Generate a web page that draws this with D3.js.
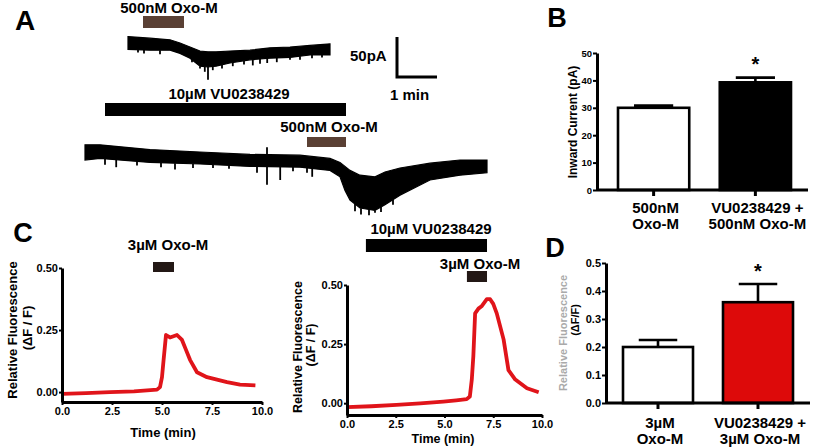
<!doctype html>
<html lang="en">
<head>
<meta charset="UTF-8">
<title>VU0238429 potentiates Oxo-M responses</title>
<style>
  body { margin: 0; background: #fff; }
  svg text { font-family: "Liberation Sans", Arial, sans-serif; font-weight: bold; }
</style>
<script src="https://cdn.jsdelivr.net/npm/d3@7/dist/d3.min.js"></script>
</head>
<body>
<svg width="820" height="448"></svg>
<script>
// ---- A: whole-cell current traces (time in min, current in pA, envelope of the noisy trace)
const traceTime1 = [0, 0.55, 1.05, 1.3, 1.55, 1.8, 2.0, 2.2, 2.55, 3.05, 3.55, 4.05, 4.55, 5.05]
const traceTop1 = [8, 6, 4, 0, -5, -10, -11, -11, -10, -9, -6, -5, -3, -1]
const traceBot1 = [-8, -9, -9, -13, -19, -29, -30, -29, -25, -21, -19, -18, -15, -15]
const spikes1 = [[0.25, -12], [0.4, -13], [0.8, -14], [1.6, -24], [1.8, -32], [1.92, -36], [2.0, -46], [2.12, -34], [2.35, -32], [2.62, -29], [2.9, -27], [3.12, -28], [3.3, -26], [3.48, -25], [3.72, -24], [4.05, -21], [4.3, -21], [4.6, -19], [4.85, -18]]

const traceTime2 = [0, 0.375, 1.625, 2.875, 4.125, 5.375, 6.125, 6.375, 6.5, 6.625, 6.875, 7.25, 7.5, 7.875, 8.625, 9.375, 10.05]
const traceTop2 = [9, 9, 3, 0, -3, -4, -8, -13, -18, -23, -29, -31, -25, -20, -14, -10, -10]
const traceBot2 = [-10, -8, -13, -15, -18, -19, -23, -31, -48, -60, -70, -73, -66, -54, -35, -29, -26]
const spikes2 = [[0.5, -16], [0.78, -19], [1.3, -17], [1.9, -19], [2.25, -22], [2.7, -20], [3.2, -20], [3.6, -21], [4.3, -26], [4.55, -41], [4.55, 6], [4.88, -35], [5.2, -24], [5.55, -26], [5.68, -31], [6.75, -74], [6.9, -78], [7.1, -79], [7.25, -76], [7.4, -75], [7.7, -66]]

const oxoA1 = [0.375, 1.4]      // drug on trace 1 (min)
const vuA2 = [0.5, 6.525]       // drugs on trace 2 (min)
const oxoA2 = [5.55, 6.525]

// ---- B: inward current bars
const catB = [["500nM", "Oxo-M"], ["VU0238429 +", "500nM Oxo-M"]]
const valB = [30, 39.3]
const errB = [0.8, 1.7]
const ticksB = [0, 10, 20, 30, 40, 50]

// ---- C: calcium fluorescence traces (time in min, dF/F)
const fTime1 = [0, 1.2, 2.4, 3.6, 4.75, 4.9, 5.0, 5.08, 5.2, 5.4, 5.75, 6.0, 6.2, 6.4, 6.75, 7.25, 7.75, 8.25, 8.9, 9.67]
const fVal1 = [-0.007, -0.004, 0, 0.003, 0.01, 0.02, 0.06, 0.13, 0.23, 0.22, 0.23, 0.21, 0.17, 0.13, 0.08, 0.06, 0.05, 0.04, 0.03, 0.027]
const fTime2 = [0, 1.25, 2.54, 3.75, 4.94, 5.6, 6.14, 6.3, 6.4, 6.48, 6.57, 6.74, 6.9, 7.17, 7.34, 7.5, 7.68, 8.03, 8.28, 8.63, 9.23, 9.83]
const fVal2 = [-0.017, -0.013, -0.007, -0.001, 0.007, 0.012, 0.017, 0.028, 0.1, 0.2, 0.38, 0.40, 0.41, 0.44, 0.44, 0.42, 0.38, 0.27, 0.14, 0.1, 0.063, 0.046]
const oxoC1 = [4.55, 5.6]
const vuC2 = [0.97, 7.18]
const oxoC2 = [6.15, 7.18]
const timeTicks = [0, 2.5, 5, 7.5, 10]
const fTicks = [0, 0.25, 0.5]

// ---- D: fluorescence bars
const catD = [["3µM", "Oxo-M"], ["VU0238429 +", "3µM Oxo-M"]]
const valD = [0.2, 0.36]
const errD = [0.025, 0.065]
const ticksD = [0, 0.1, 0.2, 0.3, 0.4, 0.5]

const svg = d3.select("svg")
svg.append("rect").attr("width", 820).attr("height", 448).attr("fill", "#fff")

function label(x, y, txt, size, anchor) {
  return svg.append("text").attr("x", x).attr("y", y).attr("font-size", size)
    .attr("text-anchor", anchor || "middle").text(txt)
}
function vlabel(x, y, txt, size) {
  return svg.append("text").attr("transform", `translate(${x},${y}) rotate(-90)`)
    .attr("font-size", size).attr("text-anchor", "middle").text(txt)
}

// panel letters
label(25, 30, "A", 28)
label(557, 27, "B", 27)
label(23, 242, "C", 27)
label(555, 257, "D", 27)

// ================= A =================
const xMin = d3.scaleLinear().domain([0, 1]).range([0, 40])    // 1 min
const yPA = d3.scaleLinear().domain([0, 50]).range([0, -40])   // 50 pA

function drawTrace(g, times, top, bot, spikes) {
  const area = d3.area()
    .x((d, i) => xMin(times[i]))
    .y0((d, i) => yPA(bot[i]))
    .y1((d, i) => yPA(top[i]))
  g.append("path").datum(times).attr("d", area)
    .attr("fill", "#000").attr("stroke", "#000").attr("stroke-width", 1.2)
  const topAt = d3.scaleLinear().domain(times).range(top)
  const botAt = d3.scaleLinear().domain(times).range(bot)
  g.selectAll("line.spike").data(spikes).join("line")
    .attr("class", "spike")
    .attr("x1", d => xMin(d[0])).attr("x2", d => xMin(d[0]))
    .attr("y1", d => yPA(d[1] > 0 ? topAt(d[0]) : botAt(d[0])))
    .attr("y2", d => yPA(d[1]))
    .attr("stroke", "#000").attr("stroke-width", 1.8)
}
function drugBar(g, span, y, h, color) {
  g.append("rect").attr("x", xMin(span[0])).attr("y", y)
    .attr("width", xMin(span[1]) - xMin(span[0])).attr("height", h).attr("fill", color)
}

const gA1 = svg.append("g").attr("transform", "translate(128,43)")
drawTrace(gA1, traceTime1, traceTop1, traceBot1, spikes1)
drugBar(gA1, oxoA1, -27, 12, "#5a4034")
label(169, 13, "500nM Oxo-M", 15)

const gA2 = svg.append("g").attr("transform", "translate(85,152)")
drawTrace(gA2, traceTime2, traceTop2, traceBot2, spikes2)
drugBar(gA2, vuA2, -49, 13, "#000")
drugBar(gA2, oxoA2, -15, 10, "#5a4034")
label(229, 99, "10µM VU0238429", 15)
label(329, 132, "500nM Oxo-M", 15)

// scale bar: 50 pA / 1 min
const gSB = svg.append("g").attr("transform", "translate(397,77)")
gSB.append("path")
  .attr("d", `M0,${yPA(50)}V0H${xMin(1)}`)
  .attr("fill", "none").attr("stroke", "#000").attr("stroke-width", 3)
label(350, 61, "50pA", 15, "start")
label(390, 100, "1 min", 15, "start")

// ================= bar charts (B, D) =================
function barChart(o) {
  const g = svg.append("g")
  const y = d3.scaleLinear().domain(o.domain).range([o.y0, o.y1])
  const x = d3.scaleBand().domain(d3.range(o.values.length)).range(o.bandRange).paddingInner(0.3)
  // bars
  g.selectAll("rect.bar").data(o.values).join("rect").attr("class", "bar")
    .attr("x", (d, i) => x(i)).attr("width", x.bandwidth())
    .attr("y", d => y(d)).attr("height", d => y(0) - y(d))
    .attr("fill", (d, i) => o.fills[i]).attr("stroke", "#000").attr("stroke-width", 2.6)
  // error bars (upper only)
  const cap = x.bandwidth() * 0.55
  o.values.forEach((v, i) => {
    const cx = x(i) + x.bandwidth() / 2
    g.append("path")
      .attr("d", `M${cx},${y(v)}V${y(v + o.errors[i])}M${cx - cap / 2},${y(v + o.errors[i])}H${cx + cap / 2}`)
      .attr("fill", "none").attr("stroke", "#000").attr("stroke-width", 2.6)
  })
  // axes
  const ya = g.append("g").attr("transform", `translate(${o.axisX},0)`)
    .call(d3.axisLeft(y).tickValues(o.ticks).tickFormat(o.fmt).tickSize(4).tickPadding(1).tickSizeOuter(0))
  ya.select(".domain").attr("stroke-width", 3)
  ya.selectAll(".tick line").attr("stroke-width", 2)
  ya.selectAll("text").attr("font-size", o.tickFont).attr("font-family", "Liberation Sans, Arial, sans-serif").attr("fill", "#000")
  const xa = g.append("g").attr("transform", `translate(0,${o.y0})`)
    .call(d3.axisBottom(x).tickSize(6).tickFormat(""))
  xa.select(".domain").remove()
  xa.selectAll(".tick line").attr("stroke-width", 3)
  g.append("line").attr("x1", o.axisX).attr("x2", o.axisEnd).attr("y1", o.y0).attr("y2", o.y0)
    .attr("stroke", "#000").attr("stroke-width", 3)
  // category labels
  o.cats.forEach((lines, i) => {
    const cx = x(i) + x.bandwidth() / 2
    lines.forEach((t, j) => label(cx + 2, o.labelY + j * 16, t, 15))
  })
  // significance star
  label(x(1) + x.bandwidth() / 2, y(o.starAt), "*", 20)
  return { x, y }
}

barChart({
  values: valB, errors: errB, cats: catB, ticks: ticksB, fmt: d3.format("d"),
  domain: [0, 50], y0: 190, y1: 53, bandRange: [618, 791], axisX: 597, axisEnd: 808,
  fills: ["#fff", "#000"], tickFont: 9.5, labelY: 213, starAt: 43.3
})
vlabel(577, 122, "Inward  Current (pA)", 12)

barChart({
  values: valD, errors: errD, cats: catD, ticks: ticksD, fmt: d3.format(".1f"),
  domain: [0, 0.5], y0: 403, y1: 263, bandRange: [623, 793], axisX: 606, axisEnd: 810,
  fills: ["#fff", "#dd0a0a"], tickFont: 11, labelY: 428, starAt: 0.448
})
vlabel(567, 333, "Relative Fluorescence", 11).attr("fill", "#aaa")
vlabel(579, 320, "(ΔF/F)", 11)

// ================= C: fluorescence traces =================
function fluorPanel(o) {
  const g = svg.append("g")
  const x = d3.scaleLinear().domain([0, 10]).range([o.x0, o.x1])
  const y = d3.scaleLinear().domain([o.yMin, 0.5]).range([o.yBottom, o.yTop])
  const line = d3.line().x((d, i) => x(o.times[i])).y(d => y(d))
  g.append("path").datum(o.values).attr("d", line)
    .attr("fill", "none").attr("stroke", "#e0141a").attr("stroke-width", 3.8)
    .attr("stroke-linejoin", "round")
  const ya = g.append("g").attr("transform", `translate(${o.x0},0)`)
    .call(d3.axisLeft(y).tickValues(fTicks).tickFormat(d3.format(".2f")).tickSize(3).tickPadding(1).tickSizeOuter(0))
  const xa = g.append("g").attr("transform", `translate(0,${o.yBottom})`)
    .call(d3.axisBottom(x).tickValues(timeTicks).tickFormat(d3.format(".1f")).tickSize(3).tickPadding(2).tickSizeOuter(0))
  ;[ya, xa].forEach(a => {
    a.select(".domain").attr("stroke-width", 3)
    a.selectAll(".tick line").attr("stroke-width", 2)
    a.selectAll("text").attr("font-size", 11).attr("font-family", "Liberation Sans, Arial, sans-serif").attr("fill", "#000")
  })
  o.bars.forEach(b => {
    g.append("rect").attr("x", x(b.span[0])).attr("width", x(b.span[1]) - x(b.span[0]))
      .attr("y", b.y).attr("height", b.h).attr("fill", b.color)
  })
  return x
}

fluorPanel({
  times: fTime1, values: fVal1, x0: 62, x1: 262, yMin: -0.04, yBottom: 402, yTop: 268,
  bars: [{ span: oxoC1, y: 262, h: 10, color: "#231815" }]
})
label(168, 250, "3µM Oxo-M", 15)
label(163, 437, "Time (min)", 13)
vlabel(17, 330, "Relative Fluorescence", 13)
vlabel(32, 328, "(ΔF / F)", 13)

fluorPanel({
  times: fTime2, values: fVal2, x0: 347, x1: 542, yMin: -0.05, yBottom: 415, yTop: 285,
  bars: [{ span: vuC2, y: 239, h: 13, color: "#000" }, { span: oxoC2, y: 271, h: 11, color: "#231815" }]
})
label(431, 234, "10µM VU0238429", 15)
label(480, 269, "3µM Oxo-M", 15)
label(443, 443, "Time (min)", 12.5)
vlabel(302, 347, "Relative Fluorescence", 12.5)
vlabel(315, 345, "(ΔF / F)", 12.5)
</script>
</body>
</html>
